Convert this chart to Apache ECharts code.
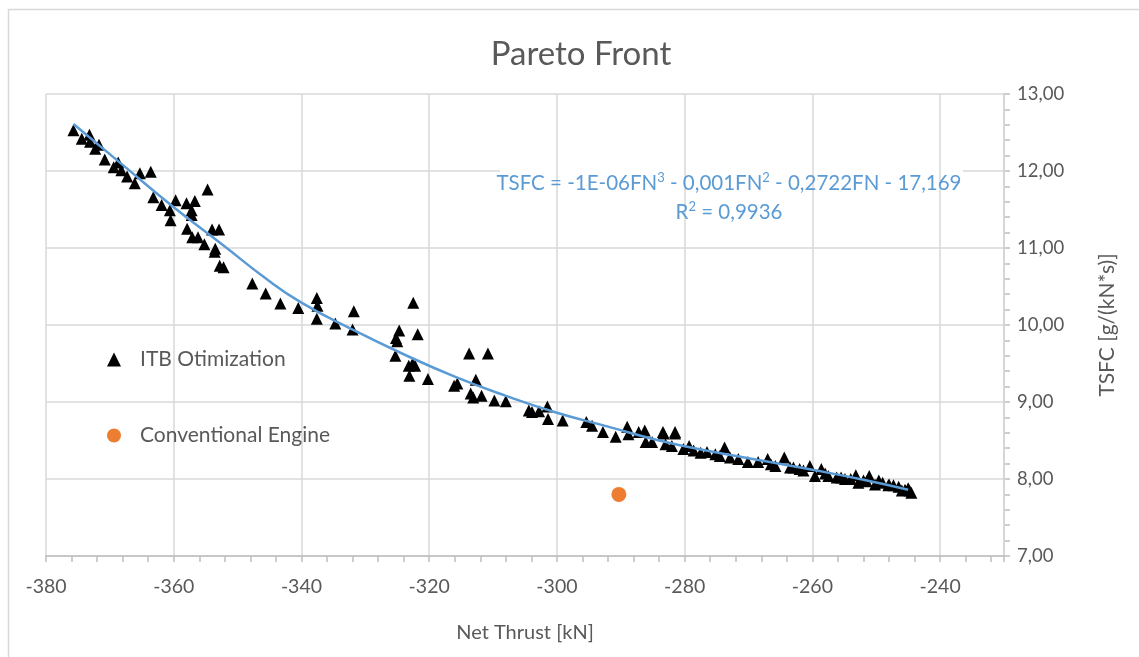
<!DOCTYPE html>
<html>
<head>
<meta charset="utf-8">
<script src="https://cdn.jsdelivr.net/npm/echarts@6/dist/echarts.min.js"></script>
<style>
html,body{margin:0;padding:0;background:#fff;}
#chart{width:1139px;height:657px;}
</style>
</head>
<body>
<div id="chart"></div>
<script>
// ITB Otimization points: [Net Thrust kN, TSFC]
const itbX = [-375.7,-374.4,-373.2,-373.1,-372.3,-371.7,-370.8,-369.4,-368.7,-368.2,-367.3,-366.1,-365.3,-363.6,-363.2,-361.9,-360.6,-360.5,-359.7,-358.0,-356.7,-357.2,-357.2,-354.7,-357.9,-357.1,-356.2,-355.2,-354.0,-352.9,-353.6,-353.5,-352.8,-352.2,
-347.7,-345.6,-343.3,-340.5,-337.6,-337.5,-337.6,-334.7,-331.8,-332.0,-322.5,-324.7,-325.2,-325.0,-321.8,-325.3,-323.2,-322.6,-322.2,-323.1,-320.2,-313.75,-310.8,-312.7,-316.1,-315.6,-313.5,-313.1,-311.8,-309.8,-308.0,
-304.4,-303.9,-302.8,-301.5,-301.4,-299.1,-295.4,-294.5,-292.8,-290.8,-289.0,-288.8,-287.2,-286.25,-286.1,-285.1,-283.4,-283.0,-281.5,-282.0,-283.3,-281.5,
-280.2,-279.3,-278.6,-277.5,-276.5,-275.2,-274.5,-273.75,-272.9,-271.6,-270.1,-268.5,-267.0,-266.5,-265.8,-264.4,-263.5,-262.97,-262.0,-261.4,-260.4,-259.6,-258.6,-258.0,-257.5,-256.2,-255.5,-254.9,-254.0,-253.2,-252.8,-252.0,-251.5,-251.1,-250.2,-249.6,-249.0,-248.1,-248.0,-247.3,-246.5,-246.0,-245.5,-245.0,-244.8,-244.5];
const itbY = [12.53,12.42,12.47,12.38,12.29,12.34,12.15,12.05,12.11,12.01,11.93,11.84,11.97,11.99,11.66,11.56,11.49,11.36,11.62,11.58,11.61,11.43,11.49,11.76,11.25,11.14,11.14,11.05,11.24,11.24,10.95,10.99,10.77,10.75,
10.54,10.41,10.28,10.22,10.35,10.25,10.08,10.02,10.18,9.94,10.29,9.93,9.83,9.79,9.88,9.60,9.47,9.50,9.47,9.34,9.30,9.63,9.63,9.29,9.21,9.24,9.11,9.06,9.08,9.02,9.01,
8.89,8.87,8.88,8.94,8.78,8.76,8.74,8.69,8.61,8.55,8.68,8.58,8.61,8.63,8.48,8.48,8.61,8.45,8.61,8.43,8.59,8.59,
8.39,8.43,8.37,8.34,8.35,8.32,8.30,8.41,8.28,8.26,8.22,8.22,8.26,8.19,8.17,8.28,8.15,8.15,8.13,8.11,8.17,8.04,8.13,8.07,8.04,8.02,8.02,8.00,8.00,8.05,7.95,7.98,7.97,8.04,7.93,7.98,7.95,7.92,7.93,7.92,7.90,7.85,7.86,7.88,7.85,7.82];

// Conventional Engine
const convX = [-290.3];
const convY = [7.80];

// Polynomial trendline
const trendX = [-375.7,-368,-360,-352,-346,-340,-332,-324,-316,-308,-300,-292,-284,-276,-268,-260,-252,-245];
const trendY = [12.61,12.08,11.53,11.02,10.63,10.29,9.94,9.62,9.33,9.08,8.86,8.68,8.50,8.36,8.24,8.12,7.99,7.86];

const titleText = 'Pareto Front';
const xName = 'Net Thrust [kN]';
const yName = 'TSFC [g/(kN*s)]';
const eqLine1 = 'TSFC = -1E-06FN{s|3} - 0,001FN{s|2} - 0,2722FN - 17,169';
const eqLine2 = 'R{s|2} = 0,9936';

const FONT = 'Lato';
const GRAY = '#595959';
const BLUE = '#5B9BD5';

const zip = (xs, ys) => xs.map((x, i) => [x, ys[i]]);

const eqRich = {s: {fontSize: 13, fontFamily: FONT, fill: BLUE, verticalAlign: 'top', lineHeight: 14}};

const chart = echarts.init(document.getElementById('chart'), null, {renderer: 'canvas'});
chart.setOption({
  animation: false,
  backgroundColor: '#fff',
  textStyle: {fontFamily: FONT},
  title: {
    text: titleText, left: 576, top: 33, textAlign: 'center',
    textStyle: {fontFamily: FONT, fontSize: 33, fontWeight: 'normal', color: GRAY}
  },
  grid: {left: 46, right: 135, top: 94, bottom: 101, containLabel: false},
  legend: {
    orient: 'vertical', left: 102, top: 344, itemGap: 55,
    itemWidth: 14, itemHeight: 14,
    textStyle: {fontFamily: FONT, fontSize: 21, color: GRAY, padding: [0,0,0,14]},
    data: [
      {name: 'ITB Otimization', icon: 'triangle', itemStyle: {color: '#000', opacity: 1}},
      {name: 'Conventional Engine', icon: 'circle', itemStyle: {color: '#ED7D31', opacity: 1}}
    ]
  },
  xAxis: {
    type: 'value', min: -380, max: -230, interval: 20, z: 2,
    name: xName, nameLocation: 'middle', nameGap: 67,
    nameTextStyle: {fontFamily: FONT, fontSize: 20, color: GRAY},
    axisLine: {show: true, onZero: false, lineStyle: {color: '#BFBFBF', width: 1.5}},
    axisTick: {show: true, length: 6, lineStyle: {color: '#BFBFBF', width: 1.5}},
    minorTick: {show: true, splitNumber: 5, length: 6, lineStyle: {color: '#BFBFBF', width: 1.5}},
    axisLabel: {fontFamily: FONT, fontSize: 19.5, color: GRAY, margin: 21, showMaxLabel: false},
    splitLine: {show: true, lineStyle: {color: '#D9D9D9', width: 1.5}}
  },
  yAxis: {
    type: 'value', position: 'right', min: 7, max: 13, interval: 1, z: 0,
    name: yName, nameLocation: 'middle', nameGap: 93, nameRotate: 90,
    nameTextStyle: {fontFamily: FONT, fontSize: 21, color: GRAY},
    axisLine: {show: true, lineStyle: {color: '#BFBFBF', width: 1.5}},
    axisTick: {show: true, length: 6, lineStyle: {color: '#BFBFBF', width: 1.5}},
    minorTick: {show: true, splitNumber: 5, length: 6, lineStyle: {color: '#BFBFBF', width: 1.5}},
    axisLabel: {fontFamily: FONT, fontSize: 18.5, color: GRAY, margin: 13,
      formatter: v => v.toFixed(2).replace('.', ',')},
    splitLine: {show: true, lineStyle: {color: '#D9D9D9', width: 1.5}}
  },
  graphic: [
    {type: 'rect', z: 1, shape: {x: 0, y: 0, width: 8, height: 657}, style: {fill: '#fff'}, silent: true},
    {type: 'line', z: 1, shape: {x1: 8.5, y1: 9, x2: 8.5, y2: 657}, style: {stroke: '#D9D9D9', lineWidth: 1.5}, silent: true},
    {type: 'line', z: 1, shape: {x1: 8, y1: 9.5, x2: 1139, y2: 9.5}, style: {stroke: '#D9D9D9', lineWidth: 1.5}, silent: true},
    {type: 'rect', z: 1, shape: {x: 500, y: 166, width: 463, height: 58}, style: {fill: '#fff'}, silent: true},
    {type: 'text', z: 10, x: 729, y: 183, style: {text: eqLine1, fill: BLUE, font: '20.5px ' + FONT, lineHeight: 24, align: 'center', verticalAlign: 'middle', rich: eqRich}},
    {type: 'text', z: 10, x: 729, y: 212, style: {text: eqLine2, fill: BLUE, font: '20.5px ' + FONT, lineHeight: 24, align: 'center', verticalAlign: 'middle', rich: eqRich}}
  ],
  series: [
    {
      name: 'ITB Otimization', type: 'scatter', z: 3,
      symbol: 'triangle', symbolSize: 12,
      itemStyle: {color: '#000', opacity: 1},
      data: zip(itbX, itbY)
    },
    {
      name: 'Conventional Engine', type: 'scatter', z: 3,
      symbol: 'circle', symbolSize: 15,
      itemStyle: {color: '#ED7D31', opacity: 1},
      data: zip(convX, convY)
    },
    {
      name: 'Trend', type: 'line', z: 4, smooth: 0.5,
      symbol: 'none', lineStyle: {color: BLUE, width: 2.5},
      data: zip(trendX, trendY)
    }
  ]
});
</script>
</body>
</html>
